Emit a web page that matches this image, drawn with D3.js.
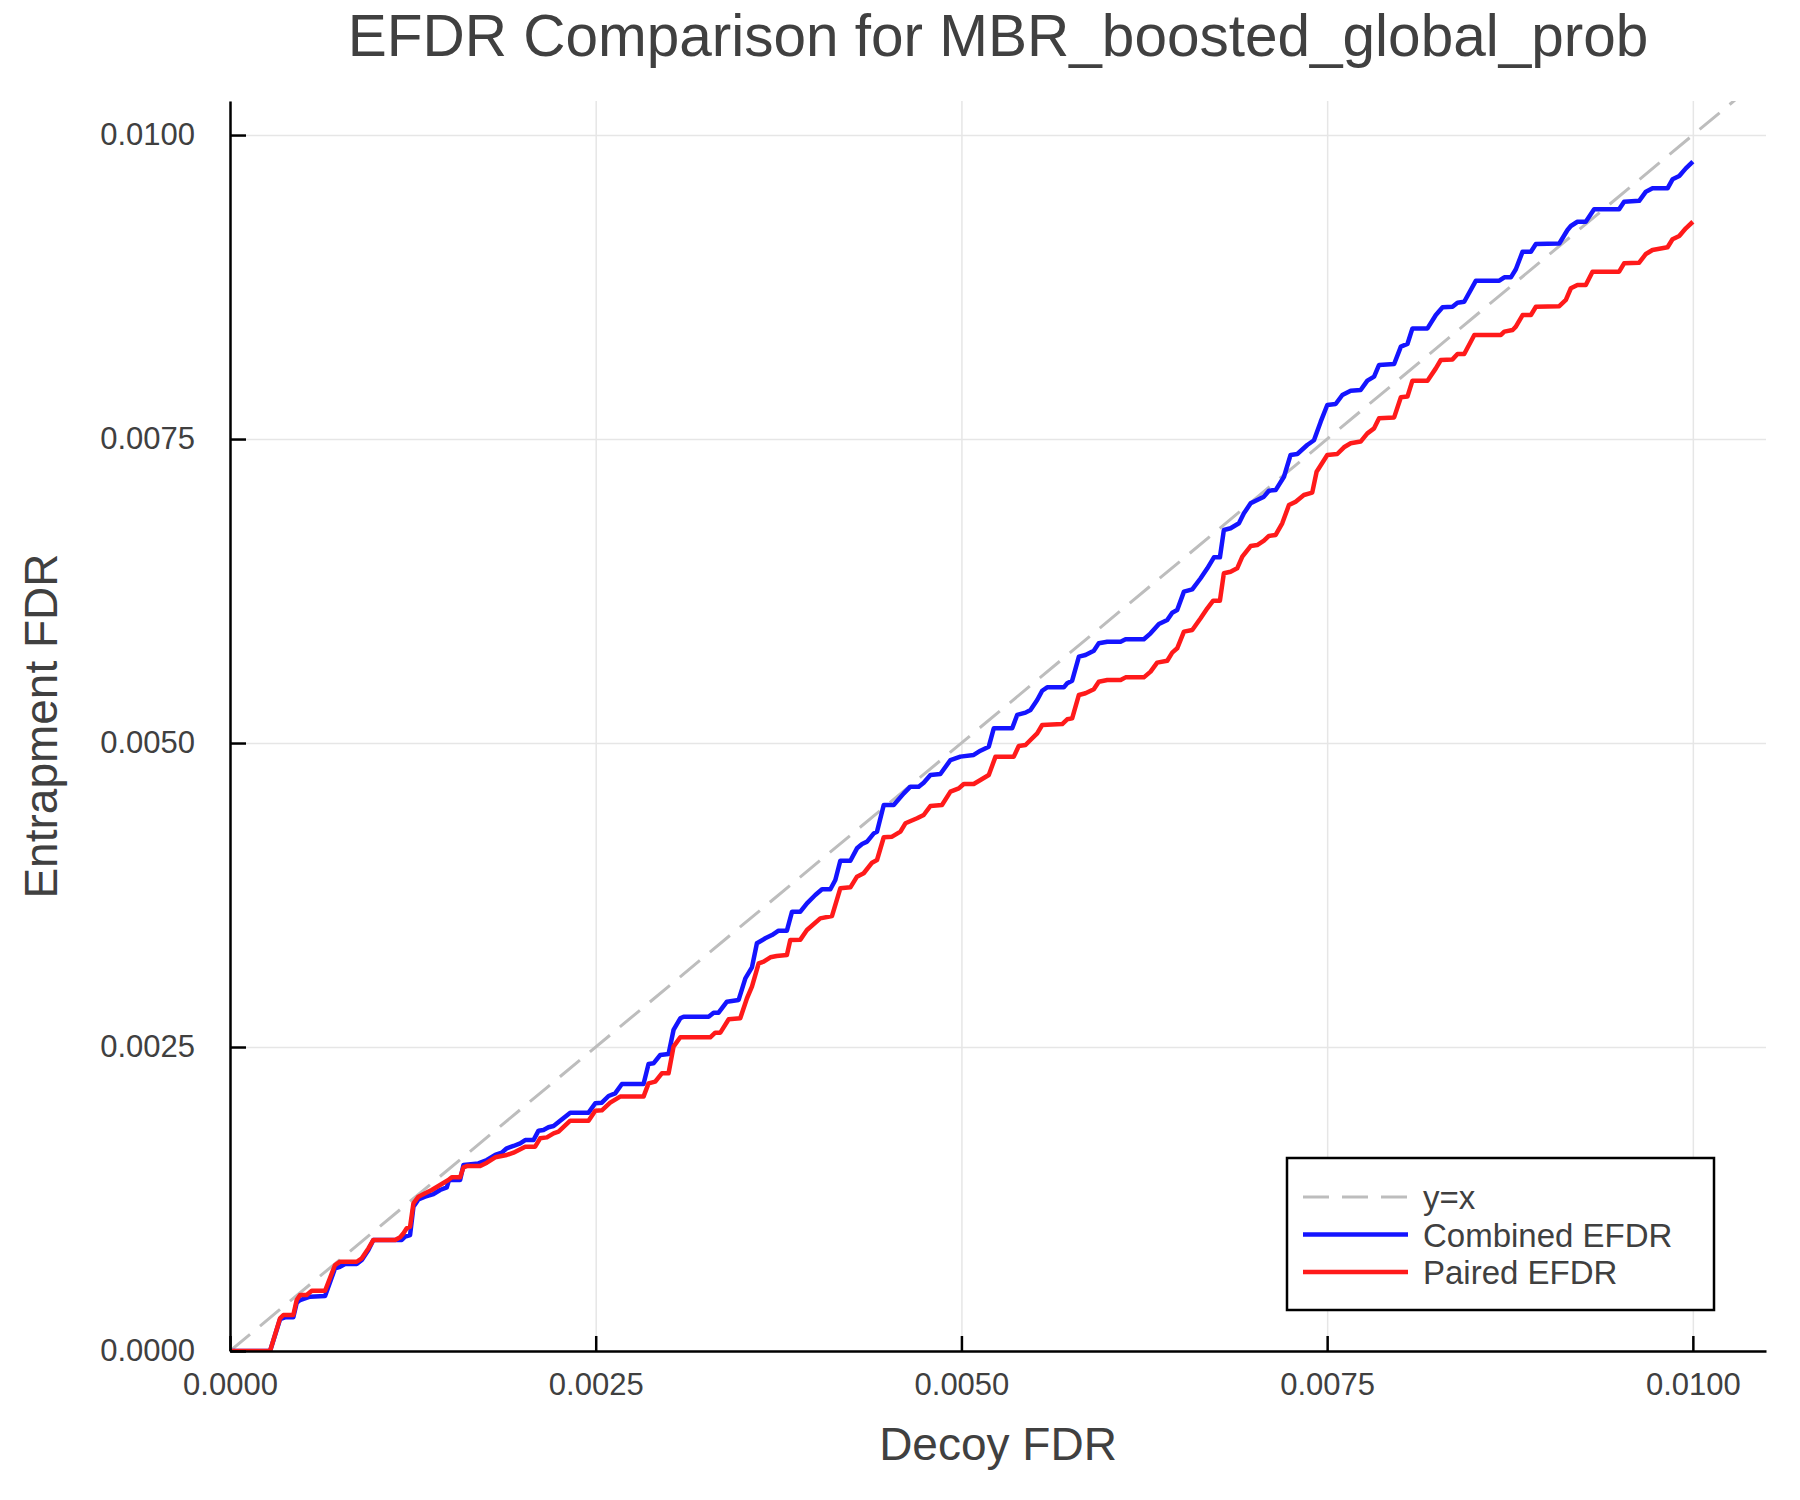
<!DOCTYPE html>
<html>
<head>
<meta charset="utf-8">
<script src="https://d3js.org/d3.v7.min.js"></script>
<style>
  body { margin: 0; background: white; }
  text { font-family: "Liberation Sans", Arial, Helvetica, sans-serif; fill: #404040; }
</style>
</head>
<body>
<div id="chart"></div>
<script>
// values are in units of 1e-4 (0.0001) to keep the tables short
const UNIT = 1e-4

// Combined EFDR: [decoy FDR, entrapment FDR]
const combined = [
  [0,0],[2.74,0],[3.42,2.61],[3.76,2.77],[4.33,2.77],[4.56,3.97],[4.79,4.19],[5.47,4.47],
  [6.50,4.52],[7.18,6.80],[7.52,6.93],[7.87,7.15],[8.66,7.15],[9.01,7.48],[9.46,8.31],[9.80,9.13],
  [11.74,9.13],[11.97,9.40],[12.31,9.54],[12.54,11.87],[12.88,12.47],[13.34,12.69],[13.91,12.91],
  [14.36,13.24],[14.82,13.46],[14.97,14.06],[15.73,14.06],[15.96,15.30],[16.98,15.43],[17.56,15.71],
  [18.13,16.12],[18.58,16.31],[18.92,16.67],[19.38,16.86],[19.84,17.08],[20.18,17.35],[20.75,17.35],
  [21.09,18.12],[21.43,18.18],[21.77,18.40],[22.12,18.50],[22.57,18.94],[23.26,19.60],[24.51,19.60],
  [24.97,20.37],[25.42,20.42],[25.88,20.97],[26.33,21.19],[26.79,21.96],[28.27,21.96],[28.61,23.60],
  [28.95,23.66],[29.41,24.34],[29.98,24.43],[30.32,26.40],[30.78,27.36],[31.01,27.49],[32.72,27.49],
  [33.06,27.82],[33.40,27.82],[33.97,28.73],[34.77,28.87],[35.23,30.65],[35.68,31.55],[36.02,33.53],
  [36.59,33.94],[37.05,34.21],[37.50,34.57],[38.07,34.57],[38.42,36.13],[38.99,36.13],[39.44,36.82],
  [40.01,37.50],[40.47,37.97],[41.04,37.97],[41.38,38.74],[41.72,40.32],[42.41,40.32],[42.86,41.34],
  [43.21,41.70],[43.55,41.89],[44.01,42.57],[44.23,42.71],[44.69,44.90],[45.37,44.90],[46.06,45.86],
  [46.51,46.41],[47.08,46.41],[47.42,46.74],[47.88,47.37],[48.56,47.45],[49.25,48.60],[49.93,48.88],
  [50.84,49.02],[51.30,49.37],[51.87,49.70],[52.21,51.21],[53.47,51.21],[53.81,52.31],[54.38,52.50],
  [54.72,52.72],[55.18,53.54],[55.52,54.30],[55.86,54.58],[57.00,54.58],[57.23,54.91],[57.57,55.13],
  [58.03,57.10],[58.48,57.24],[59.05,57.59],[59.39,58.20],[59.97,58.33],[60.88,58.33],[61.22,58.53],
  [62.47,58.53],[62.93,59.02],[63.50,59.79],[64.07,60.12],[64.41,60.72],[64.75,60.94],[65.21,62.45],
  [65.78,62.64],[66.35,63.55],[66.81,64.37],[67.26,65.27],[67.67,65.27],[67.94,67.52],[68.40,67.66],
  [68.97,68.07],[69.31,68.89],[69.77,69.71],[70.22,69.98],[70.68,70.26],[71.02,70.75],[71.48,70.80],
  [72.05,71.90],[72.50,73.69],[72.96,73.77],[73.64,74.51],[74.10,74.90],[74.56,76.43],[75.01,77.80],
  [75.58,77.88],[76.04,78.62],[76.61,78.98],[77.29,79.03],[77.75,79.80],[78.21,80.13],[78.55,81.09],
  [79.58,81.17],[80.04,82.60],[80.49,82.82],[80.83,84.10],[81.86,84.10],[82.43,85.20],[82.89,85.83],
  [83.57,85.88],[83.91,86.21],[84.37,86.29],[85.17,88.02],[86.77,88.02],[87.11,88.30],[87.56,88.30],
  [87.90,88.96],[88.36,90.41],[88.93,90.41],[89.27,91.04],[90.87,91.08],[91.43,92.19],[91.66,92.52],
  [92.11,92.87],[92.68,92.87],[93.25,93.89],[94.96,93.89],[95.30,94.52],[96.33,94.59],[96.79,95.34],
  [97.24,95.62],[98.27,95.62],[98.61,96.36],[99.07,96.63],[99.52,97.26],[100,97.81]
]

// Paired EFDR: [decoy FDR, entrapment FDR]
const paired = [
  [0,0],[2.74,0],[3.42,2.69],[3.65,2.96],[4.33,2.96],[4.56,4.19],[4.79,4.61],[5.24,4.61],
  [5.59,4.96],[6.50,4.96],[7.18,7.07],[7.52,7.34],[8.66,7.34],[9.01,7.62],[9.46,8.44],[9.80,9.13],
  [11.29,9.13],[11.63,9.35],[11.86,9.68],[12.08,10.09],[12.31,10.22],[12.54,12.14],[12.88,12.69],
  [13.34,12.97],[13.79,13.24],[14.36,13.65],[14.93,14.06],[15.16,14.28],[15.73,14.28],[15.96,15.10],
  [16.19,15.21],[17.10,15.21],[17.56,15.49],[18.13,15.93],[18.92,16.12],[19.38,16.31],[20.18,16.80],
  [20.86,16.80],[21.20,17.49],[21.66,17.57],[22.12,17.90],[22.46,18.04],[23.26,18.94],[24.51,18.94],
  [24.97,19.76],[25.42,19.79],[25.99,20.42],[26.67,20.92],[28.27,20.92],[28.61,22.01],[29.07,22.15],
  [29.52,22.84],[29.98,22.84],[30.32,25.03],[30.78,25.80],[32.83,25.80],[33.17,26.18],[33.52,26.18],
  [34.09,27.28],[34.88,27.36],[35.34,29.01],[35.68,29.96],[36.14,31.88],[36.48,32.02],[36.94,32.38],
  [37.37,32.48],[38.07,32.57],[38.30,33.80],[38.99,33.83],[39.44,34.62],[40.35,35.58],[41.15,35.77],
  [41.72,38.05],[42.41,38.13],[42.86,39.01],[43.32,39.29],[43.89,40.16],[44.23,40.38],[44.69,42.25],
  [45.26,42.30],[45.83,42.71],[46.17,43.40],[46.97,43.81],[47.42,44.08],[47.88,44.82],[48.67,44.90],
  [49.25,46.00],[49.82,46.27],[50.16,46.63],[50.84,46.63],[51.30,46.96],[51.87,47.37],[52.33,48.88],
  [53.58,48.88],[53.92,49.76],[54.38,49.84],[54.72,50.25],[55.18,50.80],[55.52,51.48],[56.89,51.56],
  [57.23,51.95],[57.57,52.03],[58.03,53.95],[58.48,54.09],[59.05,54.42],[59.39,55.04],[59.97,55.18],
  [60.88,55.18],[61.22,55.40],[62.47,55.40],[62.93,55.87],[63.38,56.61],[64.07,56.77],[64.41,57.43],
  [64.75,57.79],[65.21,59.16],[65.78,59.30],[66.35,60.26],[66.81,61.08],[67.21,61.71],[67.67,61.71],
  [67.94,63.96],[68.40,64.09],[68.85,64.37],[69.20,65.33],[69.77,66.20],[70.22,66.28],[70.68,66.64],
  [71.02,67.03],[71.48,67.11],[71.93,68.07],[72.39,69.57],[72.85,69.85],[73.41,70.40],[73.98,70.59],
  [74.28,72.31],[75.01,73.69],[75.69,73.77],[76.15,74.32],[76.61,74.65],[77.29,74.79],[77.75,75.47],
  [78.21,75.88],[78.55,76.71],[79.58,76.78],[80.04,78.43],[80.49,78.49],[80.83,79.80],[81.86,79.80],
  [82.43,80.81],[82.77,81.50],[83.57,81.55],[83.91,81.99],[84.37,81.99],[85.06,83.56],[86.88,83.56],
  [87.11,83.83],[87.68,83.97],[87.90,84.24],[88.36,85.20],[88.93,85.20],[89.27,85.88],[90.87,85.93],
  [91.32,86.44],[91.66,87.40],[92.11,87.67],[92.68,87.67],[93.14,88.76],[94.96,88.76],[95.30,89.45],
  [96.33,89.50],[96.79,90.22],[97.24,90.55],[98.27,90.77],[98.61,91.43],[99.07,91.70],[99.52,92.33],
  [100,92.87]
]

// y = x reference, from 0 to the right edge of the axes
const diagonal = [0, 0.0105]

const xTicks = [0, 0.0025, 0.005, 0.0075, 0.01]
const yTicks = [0, 0.0025, 0.005, 0.0075, 0.01]
const xDomain = [0, 0.0105]
const yDomain = [0, 0.01028]

const series = [
  { name: 'y=x', color: '#bdbdbd', dash: '26,13', width: 3 },
  { name: 'Combined EFDR', color: '#1414ff', dash: null, width: 4.5 },
  { name: 'Paired EFDR', color: '#ff1a1a', dash: null, width: 4.5 }
]

const W = 1800
const H = 1500
const plotLeft = 230
const plotRight = 1766
const plotTop = 101
const plotBottom = 1351

const svg = d3.select('#chart')
  .append('svg')
  .attr('width', W)
  .attr('height', H)

const xScale = d3.scaleLinear().domain(xDomain).range([plotLeft, plotRight])
const yScale = d3.scaleLinear().domain(yDomain).range([plotBottom, plotTop])
const format = d3.format('.4f')

svg.append('clipPath').attr('id', 'plot')
  .append('rect')
  .attr('x', plotLeft).attr('y', plotTop)
  .attr('width', plotRight - plotLeft).attr('height', plotBottom - plotTop)

//////// grid
const grid = svg.append('g')
grid.append('g')
  .attr('transform', `translate(0 ${plotBottom})`)
  .call(d3.axisBottom(xScale).tickValues(xTicks).tickSize(-(plotBottom - plotTop)).tickFormat(''))
grid.append('g')
  .attr('transform', `translate(${plotLeft} 0)`)
  .call(d3.axisLeft(yScale).tickValues(yTicks).tickSize(-(plotRight - plotLeft)).tickFormat(''))
grid.selectAll('.domain').remove()
grid.selectAll('.tick line').attr('stroke', '#e6e6e6').attr('stroke-width', 1.5)

//////// lines
const line = d3.line().x(d => xScale(d[0])).y(d => yScale(d[1]))
const lines = svg.append('g').attr('clip-path', 'url(#plot)')

lines.append('path')
  .datum(diagonal.map(d => [d, d]))
  .attr('d', line)
  .attr('fill', 'none')
  .attr('stroke', series[0].color)
  .attr('stroke-width', series[0].width)
  .attr('stroke-dasharray', series[0].dash)

;[combined, paired].forEach((data, i) => {
  lines.append('path')
    .datum(data.map(d => [d[0] * UNIT, d[1] * UNIT]))
    .attr('d', line)
    .attr('fill', 'none')
    .attr('stroke', series[i + 1].color)
    .attr('stroke-width', series[i + 1].width)
    .attr('stroke-linejoin', 'round')
})

//////// axes
const xAxis = svg.append('g')
  .attr('transform', `translate(0 ${plotBottom})`)
  .call(d3.axisBottom(xScale).tickValues(xTicks).tickFormat(format)
    .tickSizeInner(-15).tickSizeOuter(0).tickPadding(22))
const yAxis = svg.append('g')
  .attr('transform', `translate(${plotLeft} 0)`)
  .call(d3.axisLeft(yScale).tickValues(yTicks).tickFormat(format)
    .tickSizeInner(-16).tickSizeOuter(0).tickPadding(35))

;[xAxis, yAxis].forEach(a => {
  a.select('.domain').attr('stroke', 'black').attr('stroke-width', 2.5)
  a.selectAll('.tick line').attr('stroke', 'black').attr('stroke-width', 2.5)
  a.selectAll('.tick text').attr('font-size', 31).attr('fill', '#404040')
    .style('font-family', '"Liberation Sans", Arial, sans-serif')
})

//////// titles
svg.append('text')
  .attr('x', (plotLeft + plotRight) / 2)
  .attr('y', 56)
  .attr('text-anchor', 'middle')
  .attr('font-size', 58.5)
  .text('EFDR Comparison for MBR_boosted_global_prob')

svg.append('text')
  .attr('x', (plotLeft + plotRight) / 2)
  .attr('y', 1460)
  .attr('text-anchor', 'middle')
  .attr('font-size', 46)
  .text('Decoy FDR')

svg.append('text')
  .attr('transform', `translate(57 ${(plotTop + plotBottom) / 2}) rotate(-90)`)
  .attr('text-anchor', 'middle')
  .attr('font-size', 46)
  .text('Entrapment FDR')

//////// legend
const legend = svg.append('g').attr('transform', 'translate(1287 1158)')
legend.append('rect')
  .attr('width', 427).attr('height', 152)
  .attr('fill', 'white').attr('stroke', 'black').attr('stroke-width', 2.5)

const rows = legend.selectAll('g.row')
  .data(series)
  .join('g')
  .attr('class', 'row')
  .attr('transform', (d, i) => `translate(0 ${39 + i * 37.5})`)

rows.append('line')
  .attr('x1', 16).attr('x2', 121)
  .attr('stroke', d => d.color)
  .attr('stroke-width', d => d.width)
  .attr('stroke-dasharray', d => d.dash)

rows.append('text')
  .attr('x', 136)
  .attr('y', 12)
  .attr('font-size', 33)
  .text(d => d.name)
</script>
</body>
</html>
